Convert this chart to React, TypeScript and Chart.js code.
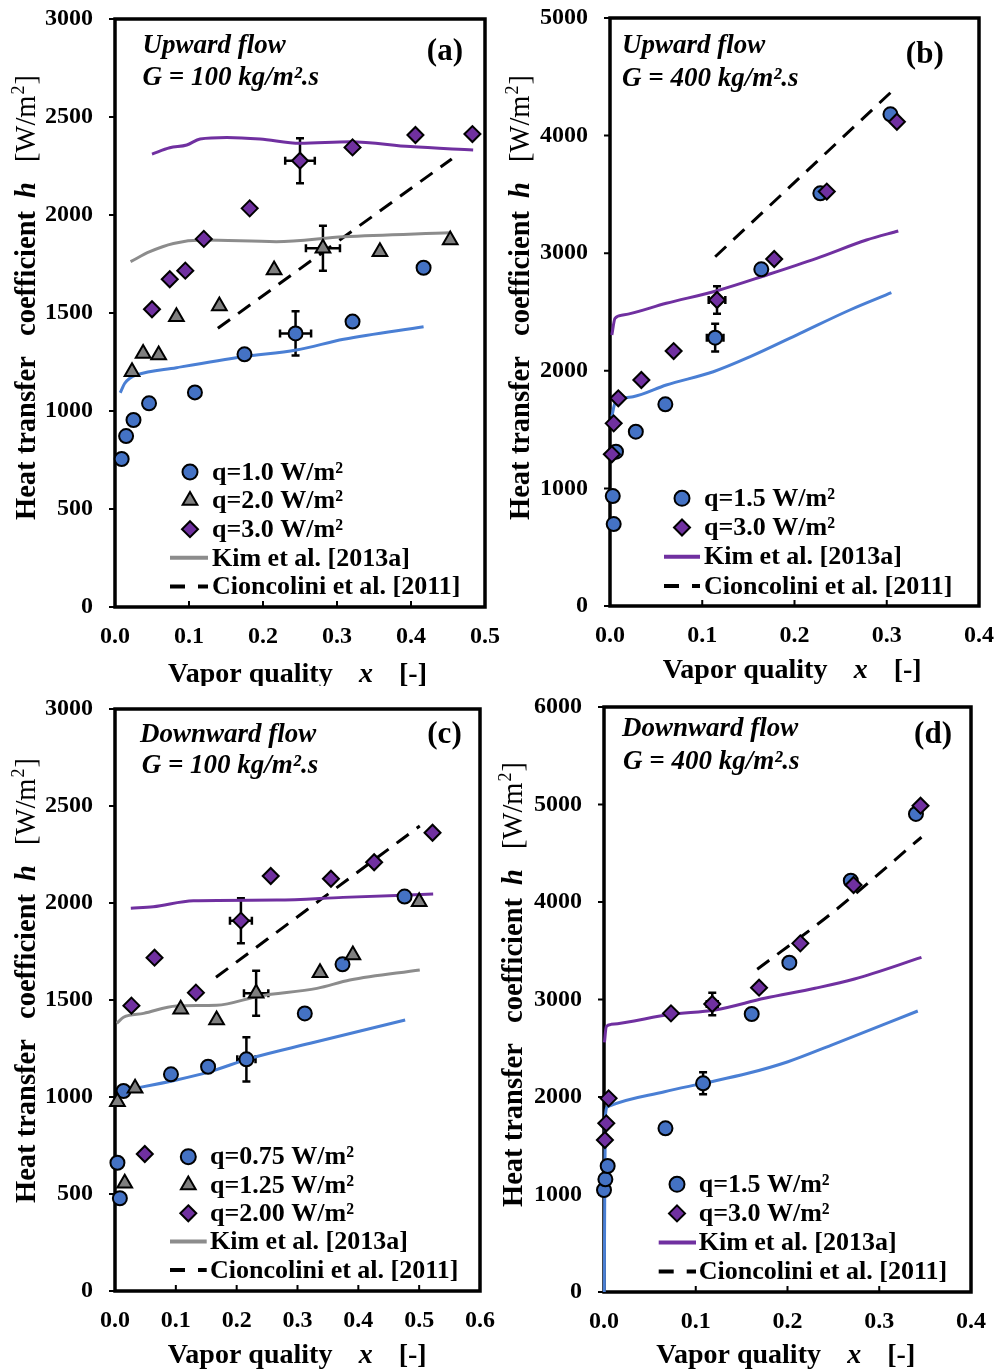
import React, { useEffect, useRef } from "react";
import { Chart, registerables } from "chart.js";

Chart.register(...registerables);

const SERIF = '"Liberation Serif", "Times New Roman", serif';
const BLUE = "#4472C4";
const BLUE_LINE = "#4A7FD4";
const GRAY = "#7F7F7F";
const GRAY_LINE = "#8C8C8C";
const PURPLE = "#7030A0";

type Pt = [number, number];
type Err = [number, number, number, number]; // x, h, dx, dh

// ---------- Panel (a): Upward flow, G = 100 ----------
const A_X_TICKS = [0, 0.1, 0.2, 0.3, 0.4, 0.5];
const A_Y_TICKS = [0, 500, 1000, 1500, 2000, 2500, 3000];
const A_Q1: Pt[] = [[0.009, 755], [0.015, 872], [0.025, 954], [0.046, 1039], [0.108, 1095], [0.175, 1289], [0.244, 1396], [0.321, 1456], [0.417, 1731]];
const A_Q2: Pt[] = [[0.023, 1200], [0.038, 1294], [0.059, 1286], [0.083, 1481], [0.141, 1536], [0.215, 1719], [0.281, 1830], [0.358, 1813], [0.453, 1872]];
const A_Q3: Pt[] = [[0.050, 1519], [0.074, 1672], [0.095, 1716], [0.120, 1878], [0.182, 2034], [0.250, 2277], [0.321, 2345], [0.406, 2408], [0.483, 2413]];
const A_KIM1: Pt[] = [[0.007, 1093], [0.013, 1140], [0.020, 1167], [0.029, 1184], [0.083, 1221], [0.173, 1277], [0.245, 1311], [0.309, 1366], [0.417, 1430]];
const A_KIM2: Pt[] = [[0.021, 1762], [0.047, 1813], [0.079, 1855], [0.119, 1872], [0.218, 1864], [0.309, 1889], [0.453, 1910]];
const A_KIM3: Pt[] = [[0.050, 2311], [0.074, 2343], [0.097, 2357], [0.115, 2388], [0.151, 2396], [0.196, 2388], [0.250, 2366], [0.318, 2374], [0.399, 2349], [0.484, 2332]];
const A_CIO: Pt[] = [[0.139, 1422], [0.455, 2286]];
const A_ERR: Err[] = [[0.244, 1396, 0.021, 113], [0.281, 1830, 0.023, 115], [0.250, 2277, 0.020, 115]];
const A_LEGEND = ["q=1.0 W/m²", "q=2.0 W/m²", "q=3.0 W/m²", "Kim et al. [2013a]", "Cioncolini et al. [2011]"];

// ---------- Panel (b): Upward flow, G = 400 ----------
const B_X_TICKS = [0, 0.1, 0.2, 0.3, 0.4];
const B_Y_TICKS = [0, 1000, 2000, 3000, 4000, 5000];
const B_Q15: Pt[] = [[0.004, 697], [0.003, 935], [0.0065, 1312], [0.028, 1482], [0.060, 1715], [0.114, 2282], [0.164, 2863], [0.228, 3509], [0.304, 4181]];
const B_Q3: Pt[] = [[0.002, 1290], [0.004, 1553], [0.009, 1766], [0.034, 1922], [0.069, 2168], [0.116, 2602], [0.178, 2951], [0.235, 3524], [0.311, 4118]];
const B_KIM15: Pt[] = [[0.002, 1610], [0.0054, 1723], [0.025, 1780], [0.061, 1879], [0.112, 1992], [0.152, 2120], [0.206, 2318], [0.260, 2517], [0.305, 2664]];
const B_KIM3: Pt[] = [[0.002, 2304], [0.0054, 2446], [0.014, 2474], [0.061, 2574], [0.116, 2681], [0.170, 2815], [0.224, 2956], [0.278, 3112], [0.3125, 3189]];
const B_CIO: Pt[] = [[0.114, 2970], [0.304, 4365]];
const B_ERR: Err[] = [[0.114, 2282, 0.009, 118], [0.116, 2602, 0.009, 117]];
const B_LEGEND = ["q=1.5 W/m²", "q=3.0 W/m²", "Kim et al. [2013a]", "Cioncolini et al. [2011]"];

// ---------- Panel (c): Downward flow, G = 100 ----------
const C_X_TICKS = [0, 0.1, 0.2, 0.3, 0.4, 0.5, 0.6];
const C_Y_TICKS = [0, 500, 1000, 1500, 2000, 2500, 3000];
const C_Q075: Pt[] = [[0.008, 478], [0.004, 661], [0.014, 1031], [0.092, 1117], [0.153, 1156], [0.216, 1194], [0.312, 1431], [0.374, 1684], [0.476, 2033]];
const C_Q125: Pt[] = [[0.016, 555], [0.004, 976], [0.033, 1045], [0.108, 1452], [0.167, 1397], [0.232, 1535], [0.337, 1641], [0.391, 1732], [0.500, 2007]];
const C_Q2: Pt[] = [[0.049, 706], [0.027, 1471], [0.065, 1718], [0.133, 1538], [0.207, 1909], [0.256, 2139], [0.355, 2125], [0.426, 2210], [0.522, 2362]];
const C_KIM075: Pt[] = [[0.014, 1033], [0.101, 1088], [0.156, 1131], [0.222, 1199], [0.321, 1277], [0.477, 1397]];
const C_KIM125: Pt[] = [[0.003, 1380], [0.014, 1411], [0.047, 1431], [0.101, 1469], [0.167, 1473], [0.238, 1521], [0.332, 1560], [0.386, 1603], [0.501, 1655]];
const C_KIM2: Pt[] = [[0.026, 1973], [0.063, 1981], [0.129, 2012], [0.266, 2015], [0.375, 2029], [0.523, 2046]];
const C_CIO: Pt[] = [[0.166, 1617], [0.501, 2397]];
const C_ERR: Err[] = [[0.216, 1194, 0.015, 114], [0.232, 1535, 0.020, 116], [0.207, 1909, 0.018, 116]];
const C_LEGEND = ["q=0.75 W/m²", "q=1.25 W/m²", "q=2.00 W/m²", "Kim et al. [2013a]", "Cioncolini et al. [2011]"];

// ---------- Panel (d): Downward flow, G = 400 ----------
const D_X_TICKS = [0, 0.1, 0.2, 0.3, 0.4];
const D_Y_TICKS = [0, 1000, 2000, 3000, 4000, 5000, 6000];
const D_Q15: Pt[] = [[0.000, 1046], [0.0015, 1156], [0.004, 1292], [0.067, 1679], [0.108, 2140], [0.161, 2851], [0.202, 3378], [0.269, 4219], [0.340, 4903]];
const D_Q3: Pt[] = [[0.001, 1559], [0.0025, 1730], [0.005, 1986], [0.073, 2858], [0.118, 2954], [0.169, 3121], [0.214, 3576], [0.272, 4174], [0.345, 4988]];
const D_KIM15: Pt[] = [[0.0003, 0], [0.0008, 1000], [0.0015, 1800], [0.004, 1900], [0.066, 2054], [0.108, 2140], [0.157, 2243], [0.2005, 2362], [0.248, 2533], [0.342, 2882]];
const D_KIM3: Pt[] = [[0.0005, 2560], [0.0025, 2721], [0.008, 2745], [0.073, 2848], [0.121, 2892], [0.175, 3012], [0.230, 3115], [0.273, 3210], [0.346, 3432]];
const D_CIO: Pt[] = [[0.167, 3310], [0.248, 3884], [0.346, 4664]];
const D_ERR: Err[] = [[0.108, 2140, 0.004, 113], [0.118, 2954, 0.006, 116]];
const D_LEGEND = ["q=1.5 W/m²", "q=3.0 W/m²", "Kim et al. [2013a]", "Cioncolini et al. [2011]"];

type Kind = "circle" | "triangle" | "diamond" | "line" | "dash";

interface Series { data: Pt[]; kind: Kind; color: string }
interface LineS { data: Pt[]; color: string; dashed?: boolean }
interface PanelSpec {
  id: string;
  canvas: { left: number; top: number; width: number; height: number };
  area: { left: number; top: number; right: number; bottom: number };
  xTicks: number[];
  yTicks: number[];
  xDec: number;
  series: Series[];
  lines: LineS[];
  errors: Err[];
  legendLabels: string[];
  legendKinds: { kind: Kind; color: string }[];
  flow: string;
  mass: string;
  tag: string;
  ann: { x1: number; b1: number; x2: number; b2: number; tagRight: number; tagB: number };
  leg: { mx: number; tx: number; l0: number; l1: number; y0: number; dy: number };
  xt: { x: number; b: number };
  yt: { x: number; b: number };
}

const PANELS: PanelSpec[] = [
  {
    id: "a",
    canvas: { left: 0, top: 0, width: 505, height: 686 },
    area: { left: 115, top: 19, right: 485, bottom: 607 },
    xTicks: A_X_TICKS, yTicks: A_Y_TICKS, xDec: 1,
    series: [
      { data: A_Q1, kind: "circle", color: BLUE },
      { data: A_Q2, kind: "triangle", color: GRAY },
      { data: A_Q3, kind: "diamond", color: PURPLE },
    ],
    lines: [
      { data: A_KIM1, color: BLUE_LINE },
      { data: A_KIM2, color: GRAY_LINE },
      { data: A_KIM3, color: PURPLE },
      { data: A_CIO, color: "#000", dashed: true },
    ],
    errors: A_ERR,
    legendLabels: A_LEGEND,
    legendKinds: [
      { kind: "circle", color: BLUE }, { kind: "triangle", color: GRAY }, { kind: "diamond", color: PURPLE },
      { kind: "line", color: GRAY_LINE }, { kind: "dash", color: "#000" },
    ],
    flow: "Upward flow", mass: "G = 100 kg/m².s", tag: "(a)",
    ann: { x1: 27.5, b1: 33.7, x2: 27.5, b2: 65.5, tagRight: 22, tagB: 40.5 },
    leg: { mx: 75, tx: 97, l0: 55, l1: 93, y0: -135, dy: 28.6 },
    xt: { x: 53, b: 74.5 },
    yt: { x: -80, b: -87 },
  },
  {
    id: "b",
    canvas: { left: 497, top: 0, width: 500, height: 686 },
    area: { left: 610, top: 18, right: 979, bottom: 606 },
    xTicks: B_X_TICKS, yTicks: B_Y_TICKS, xDec: 1,
    series: [
      { data: B_Q15, kind: "circle", color: BLUE },
      { data: B_Q3, kind: "diamond", color: PURPLE },
    ],
    lines: [
      { data: B_KIM15, color: BLUE_LINE },
      { data: B_KIM3, color: PURPLE },
      { data: B_CIO, color: "#000", dashed: true },
    ],
    errors: B_ERR,
    legendLabels: B_LEGEND,
    legendKinds: [
      { kind: "circle", color: BLUE }, { kind: "diamond", color: PURPLE },
      { kind: "line", color: PURPLE }, { kind: "dash", color: "#000" },
    ],
    flow: "Upward flow", mass: "G = 400 kg/m².s", tag: "(b)",
    ann: { x1: 12, b1: 35.3, x2: 12, b2: 68, tagRight: 35.3, tagB: 45 },
    leg: { mx: 72, tx: 94, l0: 54, l1: 90, y0: -107.7, dy: 29.2 },
    xt: { x: 52.7, b: 72 },
    yt: { x: -81.3, b: -86 },
  },
  {
    id: "c",
    canvas: { left: 0, top: 686, width: 505, height: 686 },
    area: { left: 115, top: 709, right: 480, bottom: 1291 },
    xTicks: C_X_TICKS, yTicks: C_Y_TICKS, xDec: 1,
    series: [
      { data: C_Q075, kind: "circle", color: BLUE },
      { data: C_Q125, kind: "triangle", color: GRAY },
      { data: C_Q2, kind: "diamond", color: PURPLE },
    ],
    lines: [
      { data: C_KIM075, color: BLUE_LINE },
      { data: C_KIM125, color: GRAY_LINE },
      { data: C_KIM2, color: PURPLE },
      { data: C_CIO, color: "#000", dashed: true },
    ],
    errors: C_ERR,
    legendLabels: C_LEGEND,
    legendKinds: [
      { kind: "circle", color: BLUE }, { kind: "triangle", color: GRAY }, { kind: "diamond", color: PURPLE },
      { kind: "line", color: GRAY_LINE }, { kind: "dash", color: "#000" },
    ],
    flow: "Downward flow", mass: "G = 100 kg/m².s", tag: "(c)",
    ann: { x1: 25, b1: 32.7, x2: 26.7, b2: 64.3, tagRight: 18.3, tagB: 34 },
    leg: { mx: 73.3, tx: 95, l0: 55, l1: 91.7, y0: -134.3, dy: 28.3 },
    xt: { x: 52.7, b: 72.3 },
    yt: { x: -80, b: -88 },
  },
  {
    id: "d",
    canvas: { left: 497, top: 686, width: 500, height: 686 },
    area: { left: 604, top: 707, right: 971, bottom: 1292 },
    xTicks: D_X_TICKS, yTicks: D_Y_TICKS, xDec: 1,
    series: [
      { data: D_Q15, kind: "circle", color: BLUE },
      { data: D_Q3, kind: "diamond", color: PURPLE },
    ],
    lines: [
      { data: D_KIM15, color: BLUE_LINE },
      { data: D_KIM3, color: PURPLE },
      { data: D_CIO, color: "#000", dashed: true },
    ],
    errors: D_ERR,
    legendLabels: D_LEGEND,
    legendKinds: [
      { kind: "circle", color: BLUE }, { kind: "diamond", color: PURPLE },
      { kind: "line", color: PURPLE }, { kind: "dash", color: "#000" },
    ],
    flow: "Downward flow", mass: "G = 400 kg/m².s", tag: "(d)",
    ann: { x1: 18, b1: 29, x2: 19, b2: 62.3, tagRight: 19, tagB: 36 },
    leg: { mx: 73, tx: 94.7, l0: 54.7, l1: 92, y0: -107.7, dy: 29.1 },
    xt: { x: 52.3, b: 71 },
    yt: { x: -82, b: -85 },
  },
];

const toXY = (d: Pt[]) => d.map(([x, y]) => ({ x, y }));

function drawMarker(ctx: CanvasRenderingContext2D, kind: Kind, x: number, y: number, color: string) {
  ctx.beginPath();
  if (kind === "circle") {
    ctx.arc(x, y, 7.5, 0, Math.PI * 2);
  } else if (kind === "triangle") {
    const r = 8.5;
    ctx.moveTo(x, y - r);
    ctx.lineTo(x + r * 0.866, y + r * 0.5);
    ctx.lineTo(x - r * 0.866, y + r * 0.5);
    ctx.closePath();
  } else {
    const r = 8;
    ctx.moveTo(x, y - r);
    ctx.lineTo(x + r, y);
    ctx.lineTo(x, y + r);
    ctx.lineTo(x - r, y);
    ctx.closePath();
  }
  ctx.fillStyle = color;
  ctx.fill();
  ctx.lineWidth = 2;
  ctx.strokeStyle = "#000";
  ctx.setLineDash([]);
  ctx.stroke();
}

function Panel({ spec }: { spec: PanelSpec }) {
  const ref = useRef<HTMLCanvasElement>(null);
  const cv = spec.canvas;
  useEffect(() => {
    const canvas = ref.current;
    if (!canvas) return;
    const area = spec.area;
    const yWidth = area.left - cv.left;
    const padTop = area.top - cv.top;
    const padRight = cv.left + cv.width - area.right;
    const xHeight = cv.top + cv.height - area.bottom;

    const datasets: any[] = [];
    spec.series.forEach((s, i) => {
      datasets.push({
        data: toXY(s.data),
        showLine: false,
        pointStyle: s.kind === "diamond" ? "rectRot" : s.kind,
        pointRadius: s.kind === "circle" ? 7 : s.kind === "triangle" ? 8.5 : 8,
        pointHoverRadius: s.kind === "circle" ? 7 : 8,
        pointBackgroundColor: s.color,
        pointBorderColor: "#000",
        pointBorderWidth: 2,
        clip: false,
        order: 5 - i,
      });
    });
    spec.lines.forEach((l) => {
      datasets.push({
        data: toXY(l.data),
        showLine: true,
        borderColor: l.color,
        borderWidth: 3,
        borderDash: l.dashed ? [15, 10] : [],
        pointRadius: 0,
        pointHoverRadius: 0,
        cubicInterpolationMode: "monotone",
        fill: false,
        clip: false,
        order: 10,
      });
    });

    const deco = {
      id: "deco-" + spec.id,
      beforeDatasetsDraw(chart: any) {
        const { ctx, chartArea: ca, scales } = chart;
        const x = scales.x, y = scales.y;
        ctx.save();
        ctx.setLineDash([]);
        ctx.strokeStyle = "#000";
        // ticks
        ctx.lineWidth = 2;
        ctx.beginPath();
        spec.yTicks.forEach((v) => {
          const py = y.getPixelForValue(v);
          ctx.moveTo(ca.left - 6, py);
          ctx.lineTo(ca.left, py);
        });
        spec.xTicks.forEach((v) => {
          const px = x.getPixelForValue(v);
          ctx.moveTo(px, ca.bottom);
          ctx.lineTo(px, ca.bottom - 6);
        });
        ctx.stroke();
        // box
        ctx.lineWidth = 3.5;
        ctx.strokeRect(ca.left, ca.top, ca.right - ca.left, ca.bottom - ca.top);
        // error bars
        ctx.lineWidth = 2.5;
        ctx.beginPath();
        spec.errors.forEach(([ex, ey, dx, dy]) => {
          const px = x.getPixelForValue(ex), py = y.getPixelForValue(ey);
          const t = y.getPixelForValue(ey + dy), b = y.getPixelForValue(ey - dy);
          const l = x.getPixelForValue(ex - dx), r = x.getPixelForValue(ex + dx);
          ctx.moveTo(px, t); ctx.lineTo(px, b);
          ctx.moveTo(px - 4, t); ctx.lineTo(px + 4, t);
          ctx.moveTo(px - 4, b); ctx.lineTo(px + 4, b);
          ctx.moveTo(l, py); ctx.lineTo(r, py);
          ctx.moveTo(l, py - 4); ctx.lineTo(l, py + 4);
          ctx.moveTo(r, py - 4); ctx.lineTo(r, py + 4);
        });
        ctx.stroke();
        ctx.restore();
      },
      afterDraw(chart: any) {
        const { ctx, chartArea: ca } = chart;
        ctx.save();
        ctx.fillStyle = "#000";
        ctx.textAlign = "left";
        ctx.textBaseline = "alphabetic";
        // annotations
        ctx.font = `italic bold 27px ${SERIF}`;
        ctx.fillText(spec.flow, ca.left + spec.ann.x1, ca.top + spec.ann.b1);
        ctx.fillText(spec.mass, ca.left + spec.ann.x2, ca.top + spec.ann.b2);
        ctx.font = `bold 31px ${SERIF}`;
        ctx.textAlign = "right";
        ctx.fillText(spec.tag, ca.right - spec.ann.tagRight, ca.top + spec.ann.tagB);
        ctx.textAlign = "left";

        // x title
        const xs = ca.left + spec.xt.x, xb = ca.bottom + spec.xt.b;
        ctx.font = `bold 28px ${SERIF}`;
        ctx.fillText("Vapor quality", xs, xb);
        ctx.font = `italic bold 28px ${SERIF}`;
        ctx.fillText("x", xs + 191, xb);
        ctx.font = `bold 28px ${SERIF}`;
        ctx.fillText("[-]", xs + 231, xb);

        // y title (rotated)
        ctx.save();
        ctx.translate(ca.left + spec.yt.x, ca.bottom + spec.yt.b);
        ctx.rotate(-Math.PI / 2);
        ctx.font = `bold 28.5px ${SERIF}`;
        ctx.fillText("Heat transfer", 0, 0);
        ctx.fillText("coefficient", 184, 0);
        ctx.font = `italic bold 28.5px ${SERIF}`;
        ctx.fillText("h", 322, 0);
        ctx.font = `28.5px ${SERIF}`;
        let ux = 358;
        ctx.fillText("[W/m", ux, 0);
        ux += ctx.measureText("[W/m").width;
        ctx.font = `18px ${SERIF}`;
        ctx.fillText("2", ux + 1, -11);
        ux += ctx.measureText("2").width + 2;
        ctx.font = `28.5px ${SERIF}`;
        ctx.fillText("]", ux, 0);
        ctx.restore();

        // legend
        spec.legendLabels.forEach((label, i) => {
          const k = spec.legendKinds[i];
          const cy = ca.bottom + spec.leg.y0 + i * spec.leg.dy;
          if (k.kind === "line" || k.kind === "dash") {
            ctx.save();
            ctx.beginPath();
            ctx.strokeStyle = k.color;
            ctx.lineWidth = 4;
            ctx.setLineDash(k.kind === "dash" ? [15, 13] : []);
            ctx.moveTo(ca.left + spec.leg.l0, cy);
            ctx.lineTo(ca.left + spec.leg.l1, cy);
            ctx.stroke();
            ctx.restore();
          } else {
            drawMarker(ctx, k.kind, ca.left + spec.leg.mx, cy, k.color);
          }
          ctx.fillStyle = "#000";
          ctx.font = `bold 26px ${SERIF}`;
          ctx.textBaseline = "middle";
          ctx.textAlign = "left";
          ctx.fillText(label, ca.left + spec.leg.tx, cy + 1);
        });
        ctx.restore();
      },
    };

    const tickFont = { family: SERIF, size: 24, weight: "bold" as const };
    const chart = new Chart(canvas, {
      type: "scatter",
      data: { datasets },
      options: {
        responsive: false,
        maintainAspectRatio: false,
        animation: false,
        events: [],
        layout: { padding: { left: 0, top: padTop, right: padRight, bottom: 0 } },
        plugins: { legend: { display: false }, tooltip: { enabled: false } },
        scales: {
          x: {
            type: "linear",
            min: spec.xTicks[0],
            max: spec.xTicks[spec.xTicks.length - 1],
            afterBuildTicks: (s: any) => { s.ticks = spec.xTicks.map((v) => ({ value: v })); },
            afterFit: (s: any) => { s.height = xHeight; },
            grid: { display: false, drawTicks: true, tickLength: 15 },
            border: { display: false },
            ticks: {
              font: tickFont, color: "#000", padding: 0, maxRotation: 0, autoSkip: false,
              callback: (v: any) => Number(v).toFixed(spec.xDec),
            },
          },
          y: {
            type: "linear",
            min: spec.yTicks[0],
            max: spec.yTicks[spec.yTicks.length - 1],
            afterBuildTicks: (s: any) => { s.ticks = spec.yTicks.map((v) => ({ value: v })); },
            afterFit: (s: any) => { s.width = yWidth; },
            grid: { display: false, drawTicks: true, tickLength: 22 },
            border: { display: false },
            ticks: {
              font: tickFont, color: "#000", padding: 0, autoSkip: false,
              callback: (v: any) => String(v),
            },
          },
        },
      } as any,
      plugins: [deco],
    });
    return () => chart.destroy();
  }, [spec]);
  return (
    <canvas
      ref={ref}
      width={cv.width}
      height={cv.height}
      style={{ position: "absolute", left: cv.left, top: cv.top, width: cv.width, height: cv.height }}
    />
  );
}

export default function App() {
  return (
    <div style={{ position: "absolute", left: 0, top: 0, width: 997, height: 1372, background: "#fff", overflow: "hidden" }}>
      {PANELS.map((p) => (
        <Panel key={p.id} spec={p} />
      ))}
    </div>
  );
}
